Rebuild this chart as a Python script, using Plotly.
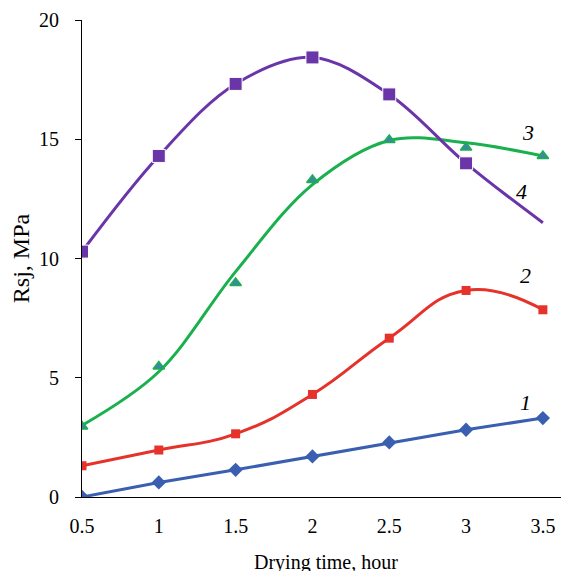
import plotly.graph_objects as go

x = [0.5, 1, 1.5, 2, 2.5, 3, 3.5]
x_ticktext = ["0.5", "1", "1.5", "2", "2.5", "3", "3.5"]
s1 = [0.0, 0.61, 1.14, 1.70, 2.29, 2.82, 3.31]
s2 = [1.31, 1.97, 2.65, 4.30, 6.66, 8.66, 7.85]
s3_points = [2.96, 5.47, 8.97, 13.29, 14.97, 14.65, 14.30]
s3_curve = [3.0, 5.25, 9.45, 13.1, 14.95, 14.85, 14.30]
s4 = [10.29, 14.30, 17.32, 18.43, 16.88, 13.99, 11.50]
s4_marker = [13, 13, 13, 13, 13, 13, 0]
labels = ["1", "2", "3", "4"]
label_x = [3.385, 3.39, 3.40, 3.36]
label_y = [3.95, 9.3, 15.3, 12.8]
x_title = "Drying time, hour"
y_title = "Rsj, MPa"

blue = "#3A5FB0"
red = "#E5322A"
green = "#1AB04E"
purple = "#6A35A8"

fig = go.Figure()
fig.add_trace(go.Scatter(x=x, y=s1, mode="lines+markers",
                         line=dict(color=blue, width=3),
                         marker=dict(symbol="diamond", size=11, color=blue, opacity=1)))
fig.add_trace(go.Scatter(x=x, y=s2, mode="lines+markers",
                         line=dict(color=red, width=3, shape="spline", smoothing=1.3),
                         marker=dict(symbol="square", size=9, color=red, opacity=1)))
fig.add_trace(go.Scatter(x=x, y=s3_curve, mode="lines",
                         line=dict(color=green, width=3, shape="spline", smoothing=1.0)))
fig.add_trace(go.Scatter(x=x, y=s3_points, mode="markers",
                         marker=dict(symbol="triangle-up", size=10, color="#3F86A8", opacity=1,
                                     line=dict(color=green, width=1.5))))
fig.add_trace(go.Scatter(x=x, y=s4, mode="lines+markers",
                         line=dict(color=purple, width=3, shape="spline", smoothing=1.0),
                         marker=dict(symbol="square", size=s4_marker, sizemode="diameter",
                                     color=purple, opacity=1)))

for t, lx, ly in zip(labels, label_x, label_y):
    fig.add_annotation(x=lx, y=ly, text=t, showarrow=False,
                       font=dict(family="Liberation Serif", size=22, color="black", style="italic"),
                       xanchor="center", yanchor="middle")

fig.add_annotation(x=0.5, y=-0.108, xref="paper", yref="paper", text=x_title,
                   showarrow=False, xanchor="center", yanchor="top",
                   font=dict(family="Liberation Serif", size=20, color="black"))

fig.update_layout(
    width=561, height=563,
    margin=dict(l=74, r=0, t=12, b=74, autoexpand=False),
    paper_bgcolor="white", plot_bgcolor="white",
    showlegend=False,
    font=dict(family="Liberation Serif", size=20, color="black"),
    xaxis=dict(range=[0.5, 3.67], tickvals=x, ticktext=x_ticktext,
               showgrid=False, zeroline=False, showline=True, linecolor="black", linewidth=1.2,
               ticks="", ticklabelstandoff=11, automargin=False),
    yaxis=dict(range=[0, 20], tickvals=[0, 5, 10, 15, 20], showgrid=False, zeroline=False,
               showline=True, linecolor="black", linewidth=1.2,
               ticks="outside", ticklen=6, tickcolor="black", ticklabelstandoff=12,
               automargin=False,
               title=dict(text=y_title, standoff=14)),
)

fig.write_html("out.html")
